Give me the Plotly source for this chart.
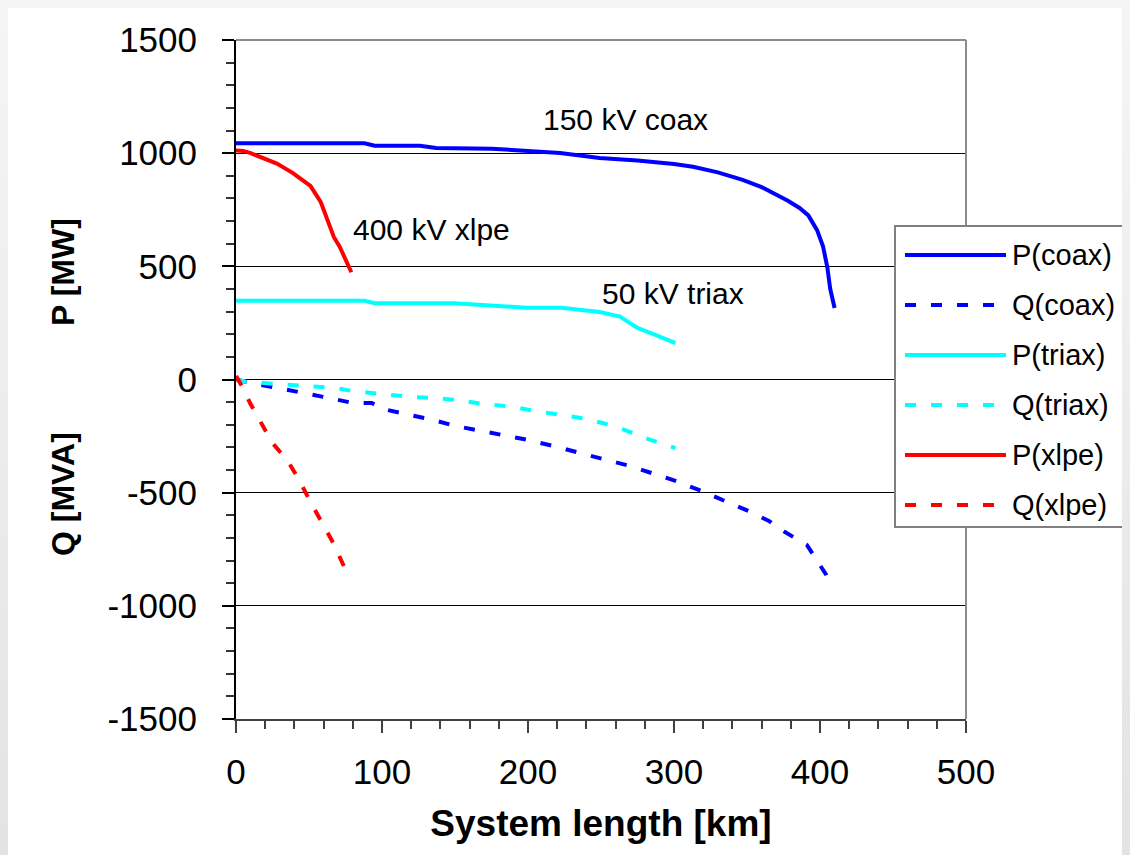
import plotly.graph_objects as go

# ---------------- data ----------------
p_coax_x = [0, 20, 40, 60, 88, 95, 110, 126, 137, 150, 175, 200, 222, 249, 275, 300, 313, 330, 347, 360, 368, 378, 386, 392, 398, 402, 405, 407, 410]
p_coax_y = [1044, 1044, 1044, 1044, 1044, 1033, 1033, 1033, 1023, 1022, 1020, 1010, 1001, 979, 968, 952, 940, 915, 882, 850, 824, 790, 758, 725, 660, 590, 497, 400, 316]

q_coax_x = [0, 10, 29, 48, 67, 80, 93, 101, 117, 135, 150, 169, 185, 200, 220, 237, 251, 270, 286, 301, 317, 333, 351, 365, 376, 391, 399, 404, 408]
q_coax_y = [0, -15, -38, -60, -86, -104, -104, -131, -152, -179, -205, -228, -250, -267, -298, -325, -351, -382, -414, -448, -488, -532, -581, -625, -674, -731, -811, -860, -916]

p_triax_x = [0, 40, 88, 95, 120, 149, 169, 199, 223, 249, 263, 275, 288, 301]
p_triax_y = [348, 348, 348, 337, 337, 337, 329, 317, 317, 298, 278, 228, 195, 161]

q_triax_x = [0, 7, 29, 48, 68, 80, 101, 118, 136, 151, 169, 190, 201, 220, 236, 251, 266, 284, 301]
q_triax_y = [0, -10, -20, -28, -38, -51, -66, -76, -82, -90, -108, -121, -135, -152, -170, -192, -223, -267, -303]

p_xlpe_x = [0, 5, 10, 20, 28, 39, 51, 58, 64, 67, 71, 75, 79]
p_xlpe_y = [1012, 1010, 1000, 975, 954, 912, 855, 785, 675, 630, 587, 535, 474]

q_xlpe_x = [0, 5, 9.6, 16, 25, 35, 42.5, 51, 59, 66.7, 76, 79]
q_xlpe_y = [15, -40, -104, -179, -281, -356, -435, -541, -634, -723, -855, -870]

series_names = ["P(coax)", "Q(coax)", "P(triax)", "Q(triax)", "P(xlpe)", "Q(xlpe)"]
series_x = [p_coax_x, q_coax_x, p_triax_x, q_triax_x, p_xlpe_x, q_xlpe_x]
series_y = [p_coax_y, q_coax_y, p_triax_y, q_triax_y, p_xlpe_y, q_xlpe_y]
series_colors = ["#0000FF", "#0000FF", "#00FFFF", "#00FFFF", "#FF0000", "#FF0000"]
series_dash = ["solid", "11px,15px", "solid", "11px,15px", "solid", "11px,15px"]

curve_labels = ["150 kV coax", "400 kV xlpe", "50 kV triax"]
curve_label_x = [267, 134, 299]
curve_label_y = [1147, 661, 382]

x_tick_vals = [0, 100, 200, 300, 400, 500]
x_tick_text = ["0", "100", "200", "300", "400", "500"]
y_tick_vals = [-1500, -1000, -500, 0, 500, 1000, 1500]
y_tick_text = ["-1500", "-1000", "-500", "0", "500", "1000", "1500"]

x_title = "System length [km]"
y_title_p = "P [MW]"
y_title_q = "Q [MVA]"

FONT = "Liberation Sans, Arial, sans-serif"

# ---------------- figure ----------------
fig = go.Figure()
for name, xs, ys, col, dash in zip(series_names, series_x, series_y, series_colors, series_dash):
    fig.add_trace(go.Scatter(x=xs, y=ys, mode="lines", name=name, showlegend=False,
                             line=dict(color=col, width=4, dash=dash)))

# figure geometry (page has an 8px body margin)
OFF = 8
W, H = 1122, 847
L, R, T, B = 228, 164, 32, 136
pw, ph = W - L - R, H - T - B


def px(xp):
    # page pixel -> paper x
    return (xp - OFF - L) / pw


def py(yp):
    # page pixel -> paper y
    return (H - B - (yp - OFF)) / ph


shapes = []
# grey top / right border of plot area
shapes.append(dict(type="line", xref="paper", yref="paper", x0=0, x1=1, y0=1, y1=1,
                   line=dict(color="#8c8c8c", width=2), layer="above"))
shapes.append(dict(type="line", xref="paper", yref="paper", x0=1, x1=1, y0=0, y1=1,
                   line=dict(color="#8c8c8c", width=2), layer="above"))

# custom legend (box, line samples, labels)
lg_left, lg_right, lg_top, lg_bottom = 895, 1128, 226, 527
shapes.append(dict(type="rect", xref="paper", yref="paper", x0=px(lg_left), x1=px(lg_right),
                   y0=py(lg_bottom), y1=py(lg_top), fillcolor="#ffffff",
                   line=dict(color="#808080", width=2), layer="above"))
annotations = []
row_y0, row_step = 255, 50
for i, (name, col, dash) in enumerate(zip(series_names, series_colors, series_dash)):
    yy = py(row_y0 + i * row_step)
    shapes.append(dict(type="line", xref="paper", yref="paper", x0=px(905), x1=px(1006), y0=yy, y1=yy,
                       line=dict(color=col, width=4, dash=dash), layer="above"))
    annotations.append(dict(xref="paper", yref="paper", x=px(1010), y=yy, text=name, showarrow=False,
                            xanchor="left", yanchor="middle", font=dict(family=FONT, size=29, color="#000")))

# curve labels
for txt, lx, ly in zip(curve_labels, curve_label_x, curve_label_y):
    annotations.append(dict(x=lx, y=ly, xref="x", yref="y", text=txt, showarrow=False,
                            xanchor="center", yanchor="middle", font=dict(family=FONT, size=30, color="#000")))

# y-axis title (two parts)
annotations.append(dict(xref="paper", yref="paper", x=px(63), y=py(272), text="<b>%s</b>" % y_title_p,
                        textangle=-90, showarrow=False, xanchor="center", yanchor="middle",
                        font=dict(family=FONT, size=32, color="#000")))
annotations.append(dict(xref="paper", yref="paper", x=px(63), y=py(494), text="<b>%s</b>" % y_title_q,
                        textangle=-90, showarrow=False, xanchor="center", yanchor="middle",
                        font=dict(family=FONT, size=32, color="#000")))

fig.update_layout(
    width=W, height=H,
    margin=dict(l=L, r=R, t=T, b=B, pad=0),
    paper_bgcolor="#ffffff",
    plot_bgcolor="#ffffff",
    font=dict(family=FONT, size=35, color="#000"),
    showlegend=False,
    shapes=shapes,
    annotations=annotations,
    xaxis=dict(
        range=[0, 500], tickmode="array", tickvals=x_tick_vals, ticktext=x_tick_text,
        showgrid=False, zeroline=False,
        showline=True, linecolor="#404040", linewidth=2,
        ticks="outside", ticklen=12, tickwidth=1.5, tickcolor="#404040",
        minor=dict(dtick=20, tick0=0, ticks="outside", ticklen=8, tickwidth=1.5, tickcolor="#404040", showgrid=False),
        tickfont=dict(family=FONT, size=35, color="#000"),
        ticklabelstandoff=9,
        title=dict(text="<b>%s</b>" % x_title, font=dict(family=FONT, size=37, color="#000"), standoff=20),
    ),
    yaxis=dict(
        range=[-1500, 1500], tickmode="array", tickvals=y_tick_vals, ticktext=y_tick_text,
        showgrid=True, gridcolor="#000000", gridwidth=1,
        zeroline=True, zerolinecolor="#000000", zerolinewidth=1,
        showline=True, linecolor="#000000", linewidth=2,
        ticks="outside", ticklen=12, tickwidth=1.5, tickcolor="#000000",
        minor=dict(dtick=100, tick0=0, ticks="outside", ticklen=8, tickwidth=1.5, tickcolor="#333333", showgrid=False),
        tickfont=dict(family=FONT, size=35, color="#000"),
        ticklabelstandoff=18,
    ),
)

# light grey page margin around the figure (as in the reference frame)
page_bg = "document.body.style.background = 'linear-gradient(#f5f5f5, #e2e3e5)';"
fig.write_html("out.html", post_script=page_bg)
